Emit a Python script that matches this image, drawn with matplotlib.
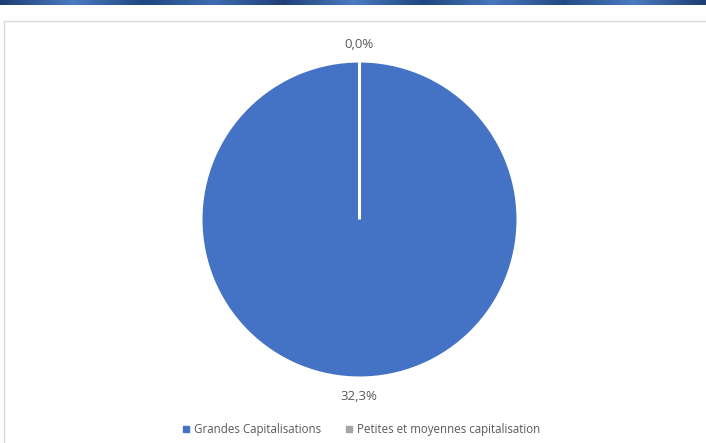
import matplotlib.pyplot as plt
import numpy as np
from matplotlib.colors import LinearSegmentedColormap
from matplotlib.patches import Rectangle

# Data
categories = ['Grandes Capitalisations', 'Petites et moyennes capitalisation']
values = [32.3, 0.0]
labels = ['32,3%', '0,0%']
colors = ['#4472C4', '#A5A5A5']

plt.rcParams['font.family'] = ['Open Sans', 'DejaVu Sans']

fig = plt.figure(figsize=(7.06, 4.43), dpi=100)

# Blue banner at the top
band = fig.add_axes([0, 1 - 5 / 443, 1, 5 / 443])
band_cmap = LinearSegmentedColormap.from_list(
    'band', ['#1F3F75', '#4A7CC0', '#1E4680', '#3D6DB0', '#203F78', '#4A7CC0',
             '#1F467F', '#4677BA', '#234A85', '#4A7CC0', '#1F3F75'])
band.imshow(np.linspace(0, 1, 300).reshape(1, -1), aspect='auto', cmap=band_cmap)
band.axis('off')

# Chart frame
fig.patches.append(Rectangle((4 / 706, -0.05), 1.0, 1 - 21 / 443 + 0.05,
                             transform=fig.transFigure, fill=False,
                             edgecolor='#D9D9D9', linewidth=1))

# Pie
r = 158.5
cx, cy = 359.5, 443 - 219.5
ax = fig.add_axes([(cx - r) / 706, (cy - r) / 443, 2 * r / 706, 2 * r / 443])
wedges, _ = ax.pie(values, colors=colors, startangle=90, counterclock=False,
                   wedgeprops=dict(edgecolor='white', linewidth=2.2))
ax.set_xlim(-1, 1)
ax.set_ylim(-1, 1)
ax.set_aspect('auto')
ax.axis('off')

# Data labels
fig.text(359 / 706, 1 - 44 / 443, labels[1], ha='center', va='center',
         fontsize=9.5, color='#595959')
fig.text(359 / 706, 1 - 397 / 443, labels[0], ha='center', va='center',
         fontsize=9.5, color='#595959')

# Legend
handles = [plt.Line2D([], [], marker='s', linestyle='', markersize=4.5,
                      markerfacecolor=c, markeredgecolor=c) for c in colors]
fig.legend(handles, categories, loc='center', bbox_to_anchor=(361 / 706, 1 - 430 / 443),
           ncol=2, frameon=False, fontsize=8.3, labelcolor='#595959',
           handletextpad=0.3, columnspacing=2.0, handlelength=0.8)

plt.savefig('out.png', dpi=100)
